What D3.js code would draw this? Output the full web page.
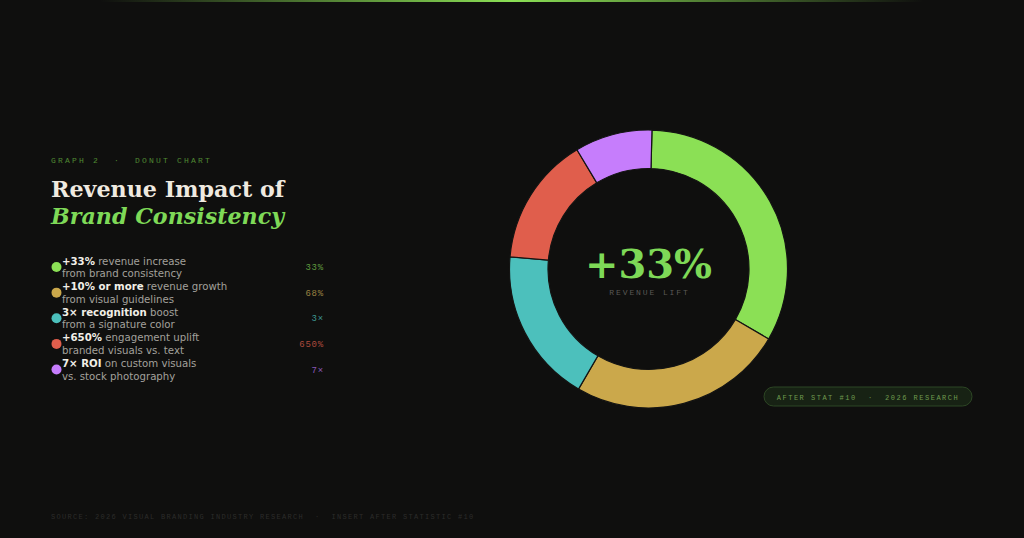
<!DOCTYPE html>
<html lang="en">
<head>
<meta charset="UTF-8" />
<title>Revenue Impact of Brand Consistency</title>
<script src="https://d3js.org/d3.v7.min.js"></script>
<style>
  html, body { margin: 0; padding: 0; background: #0f0f0e; }
  svg { display: block; }
  .mono { font-family: "Courier New", "Liberation Mono", monospace; white-space: pre; }
  .serif { font-family: "DejaVu Serif", serif; }
  .sans { font-family: "DejaVu Sans", sans-serif; }
</style>
</head>
<body>
<svg width="1024" height="538"></svg>
<script>
  // data
  const labels = ["Brand consistency", "Visual guidelines", "Signature color", "Branded visuals", "Custom visuals"];
  const shares = [33, 25, 18, 15, 9];
  const colors = ["#8be055", "#cba84b", "#4cc0bc", "#e05e4c", "#c67dfc"];
  const boldText = ["+33%", "+10% or more", "3\u00d7 recognition", "+650%", "7\u00d7 ROI"];
  const restText = [" revenue increase", " revenue growth", " boost", " engagement uplift", " on custom visuals"];
  const secondLine = ["from brand consistency", "from visual guidelines", "from a signature color", "branded visuals vs. text", "vs. stock photography"];
  const statText = ["33%", "68%", "3\u00d7", "650%", "7\u00d7"];
  const statColors = ["#5f9a3e", "#9a8242", "#3d9591", "#ad4a3d", "#8a58b8"];

  const svg = d3.select("svg");

  // top glow line
  const defs = svg.append("defs");
  const grad = defs.append("linearGradient").attr("id", "topglow");
  grad.append("stop").attr("offset", "0%").attr("stop-color", "#8be055").attr("stop-opacity", 0);
  grad.append("stop").attr("offset", "50%").attr("stop-color", "#8be055").attr("stop-opacity", 1);
  grad.append("stop").attr("offset", "100%").attr("stop-color", "#8be055").attr("stop-opacity", 0);
  svg.append("rect").attr("x", 100).attr("y", 0).attr("width", 824).attr("height", 2)
    .attr("fill", "url(#topglow)");

  // heading
  svg.append("text").attr("class", "mono")
    .attr("x", 51).attr("y", 163)
    .attr("font-size", 8).attr("letter-spacing", 2.2)
    .attr("fill", "#4f8a33")
    .text("GRAPH 2  \u00b7  DONUT CHART");

  svg.append("text").attr("class", "serif")
    .attr("x", 51).attr("y", 197)
    .attr("font-size", 22.2).attr("font-weight", "bold")
    .attr("fill", "#efeae0")
    .text("Revenue Impact of");

  svg.append("text").attr("class", "serif")
    .attr("x", 51).attr("y", 224)
    .attr("font-size", 22.2).attr("font-weight", "bold").attr("font-style", "italic")
    .attr("fill", "#7ed957")
    .text("Brand Consistency");

  // legend
  const rowY = d3.scaleLinear().domain([0, 4]).range([267, 369.5]);
  const rows = svg.append("g").selectAll("g")
    .data(labels)
    .join("g")
    .attr("transform", (d, i) => `translate(0,${rowY(i)})`);

  rows.append("circle")
    .attr("cx", 56.5).attr("cy", 0).attr("r", 5)
    .attr("fill", (d, i) => colors[i]);

  const t1 = rows.append("text").attr("class", "sans")
    .attr("x", 62).attr("y", -2.5).attr("font-size", 10.2).attr("fill", "#a3a19c");
  t1.append("tspan").attr("font-weight", "bold").attr("fill", "#f2efe8").text((d, i) => boldText[i]);
  t1.append("tspan").attr("xml:space", "preserve").style("white-space", "pre").text((d, i) => restText[i]);

  rows.append("text").attr("class", "sans")
    .attr("x", 62).attr("y", 10).attr("font-size", 10.2).attr("fill", "#a3a19c")
    .text((d, i) => secondLine[i]);

  rows.append("text").attr("class", "mono")
    .attr("x", 324).attr("y", 3).attr("text-anchor", "end")
    .attr("font-size", 9).attr("letter-spacing", 0.8)
    .attr("fill", (d, i) => statColors[i])
    .text((d, i) => statText[i]);

  // donut
  const cx = 648.5, cy = 269;
  const pie = d3.pie().sort(null).value(d => d)
    .startAngle(0.025).endAngle(Math.PI * 2 + 0.025);
  const arc = d3.arc().innerRadius(100.5).outerRadius(139);

  const donut = svg.append("g").attr("transform", `translate(${cx},${cy})`);
  donut.selectAll("path")
    .data(pie(shares))
    .join("path")
    .attr("d", arc)
    .attr("fill", (d, i) => colors[i])
    .attr("stroke", "#141413")
    .attr("stroke-width", 1.2);

  donut.append("text").attr("class", "serif")
    .attr("x", 0).attr("y", 9)
    .attr("text-anchor", "middle")
    .attr("font-size", 40).attr("font-weight", "bold")
    .attr("fill", "#7ed957")
    .text("+33%");

  donut.append("text").attr("class", "mono")
    .attr("x", 1).attr("y", 26)
    .attr("text-anchor", "middle")
    .attr("font-size", 8).attr("letter-spacing", 1.9)
    .attr("fill", "#5a5955")
    .text("REVENUE LIFT");

  // badge
  const badge = svg.append("g").attr("transform", "translate(764,387)");
  badge.append("rect")
    .attr("width", 208).attr("height", 19).attr("rx", 9.5)
    .attr("fill", "#172214").attr("stroke", "#2d4624").attr("stroke-width", 1);
  badge.append("text").attr("class", "mono")
    .attr("x", 104).attr("y", 12.5).attr("text-anchor", "middle")
    .attr("font-size", 7).attr("letter-spacing", 1.5)
    .attr("fill", "#6e9a4e")
    .text("AFTER STAT #10  \u00b7  2026 RESEARCH");

  // footer
  svg.append("text").attr("class", "mono")
    .attr("x", 51).attr("y", 519)
    .attr("font-size", 7).attr("letter-spacing", 1.3)
    .attr("fill", "#2c2c2a")
    .text("SOURCE: 2026 VISUAL BRANDING INDUSTRY RESEARCH  \u00b7  INSERT AFTER STATISTIC #10");
</script>
</body>
</html>
